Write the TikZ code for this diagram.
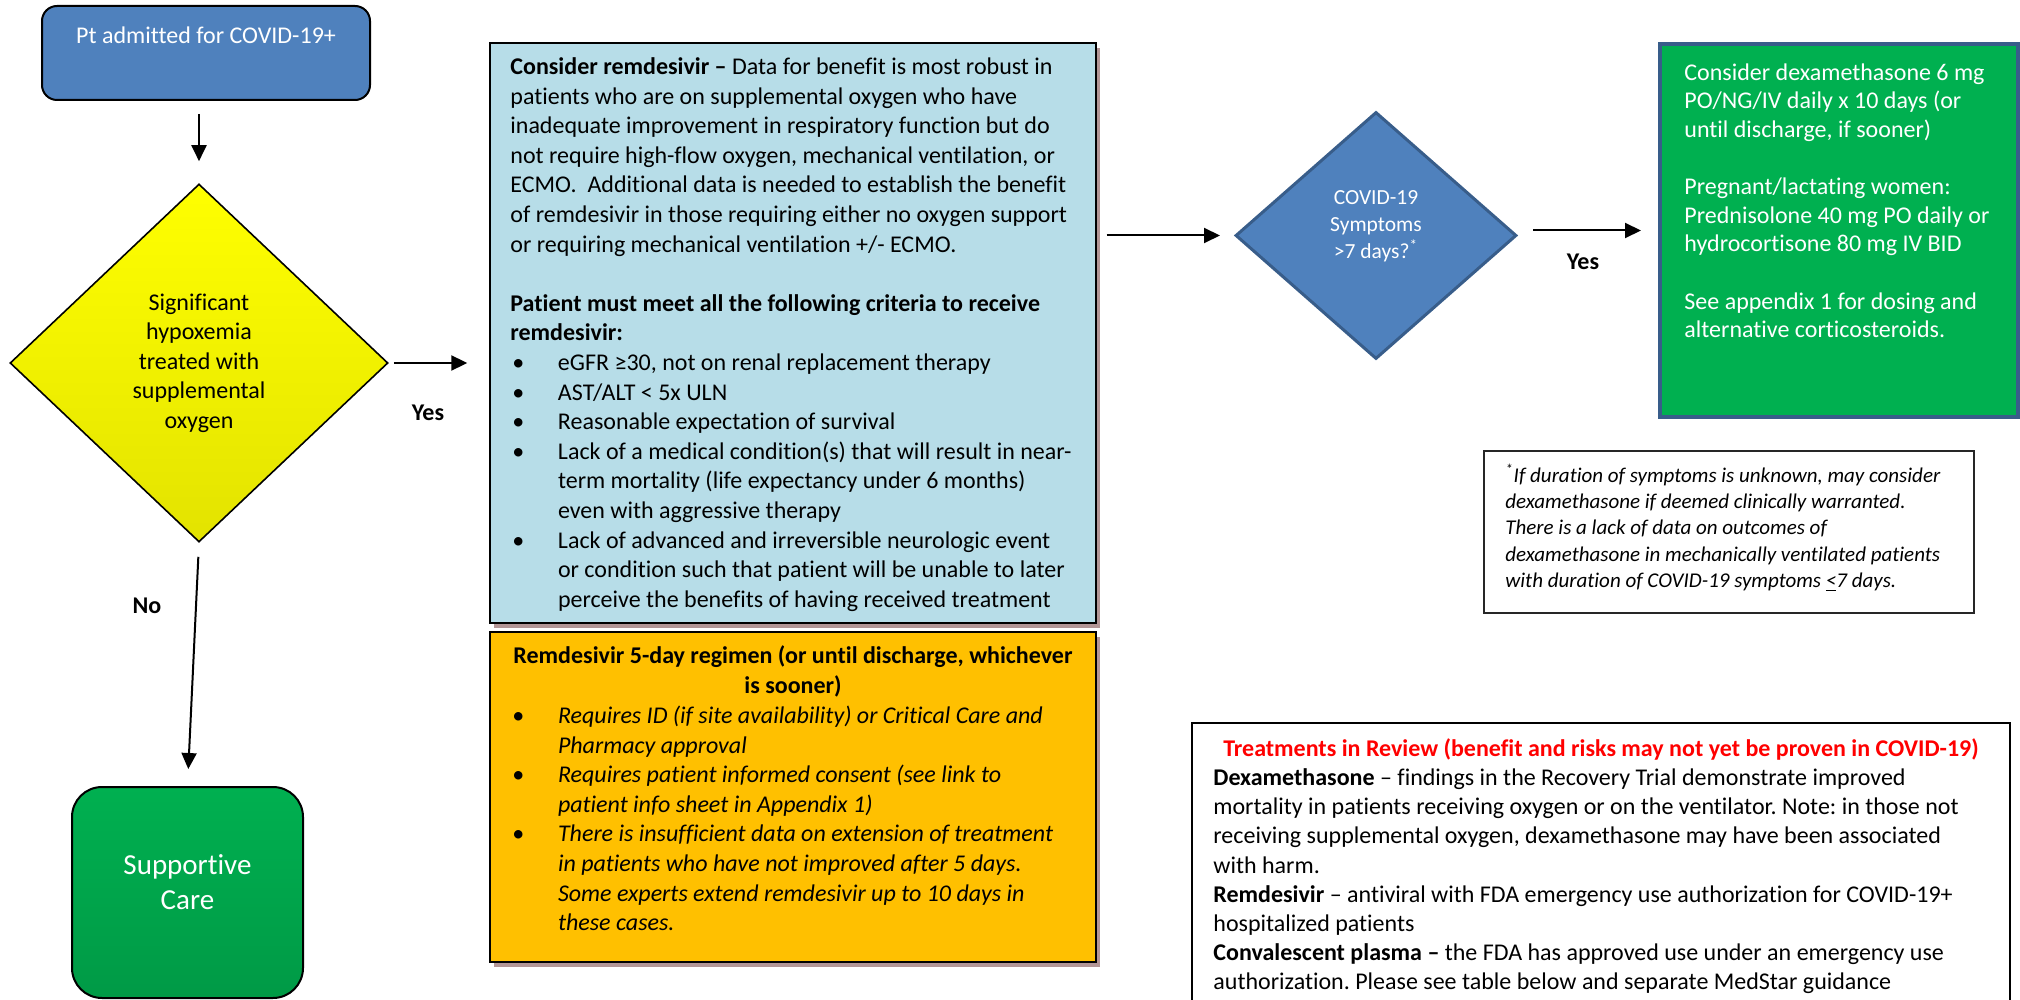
\documentclass[tikz,border=0pt]{standalone}
\usepackage{fontspec}
\setmainfont{Carlito}[Ligatures=NoCommon]
\frenchspacing
\usetikzlibrary{arrows.meta,shapes.geometric}
\definecolor{ptblue}{HTML}{4F81BD}
\definecolor{dkblue}{HTML}{385D8A}
\definecolor{lblue}{HTML}{B7DDE8}
\definecolor{orng}{HTML}{FFC000}
\definecolor{grn}{HTML}{00B050}
\definecolor{grndk}{HTML}{009A46}
\definecolor{ylw}{HTML}{FFFF00}
\definecolor{ylwdk}{HTML}{E3E300}
\definecolor{shd}{HTML}{B39696}
\definecolor{redt}{HTML}{FF0000}
\newcommand\topst{\rule{0pt}{11pt}}
\newcommand\bl{\makebox[23.8pt][l]{\hspace*{1pt}\upshape\textbullet}}
\newcommand\ind{\hspace*{23.8pt}}
\begin{document}
\begin{tikzpicture}[x=0.5pt,y=-0.5pt,
  arr/.style={line width=1pt,-{Triangle[length=8pt,width=7.5pt]}},
  txtbody/.style={inner sep=0pt,font=\fontsize{12}{14.8}\selectfont,align=left},
  shadowbox/.style={rectangle,draw=black,line width=0.7pt,inner sep=0pt,
    preaction={fill=shd,transform canvas={shift={(2pt,-2.5pt)}}}},
  lbl/.style={font=\fontsize{12}{14}\selectfont\bfseries,inner sep=0pt},
]
\useasboundingbox (0,0) rectangle (2020,1000);
\clip (0,0) rectangle (2020,1000);
\fill[white] (0,0) rectangle (2020,1000);

% start box
\node[draw=black,line width=1pt,fill=ptblue,rounded corners=7.5pt,minimum width=164pt,minimum height=47pt,inner sep=0pt] (pt) at (206,53) {};
\node[font=\fontsize{12}{14}\selectfont,text=white,inner sep=0pt,anchor=base] (pttxt) at (206,44) {Pt admitted for COVID-19+};

% yellow decision
\node[diamond,draw=black,line width=0.8pt,top color=ylw,bottom color=ylwdk,minimum width=189pt,minimum height=179pt,inner sep=0pt,align=center,font=\fontsize{12}{14.75}\selectfont] (dec1) at (199,363) {Significant\\hypoxemia\\treated with\\supplemental\\oxygen};

% supportive care
\node[rounded corners=15pt,draw=black,line width=1pt,top color=grn,bottom color=grndk,minimum width=115.5pt,minimum height=105.5pt,inner sep=0pt] (sup) at (187.5,892.5) {};
\node[text=white,font=\fontsize{14.5}{17.5}\selectfont,align=center,inner sep=0pt] (suptxt) at (187.5,882.5) {Supportive\\Care};

% remdesivir box
\node[shadowbox,fill=lblue,minimum width=303pt,minimum height=290pt] (rem) at (793,333) {};
\node[txtbody,anchor=north west] (remtxt) at (510,52) {\topst\textbf{Consider remdesivir –} Data for benefit is most robust in\\
patients who are on supplemental oxygen who have\\
inadequate improvement in respiratory function but do\\
not require high-flow oxygen, mechanical ventilation, or\\
ECMO.\ \ Additional data is needed to establish the benefit\\
of remdesivir in those requiring either no oxygen support\\
or requiring mechanical ventilation +/- ECMO.\\[14.8pt]
\textbf{Patient must meet all the following criteria to receive}\\
\textbf{remdesivir:}\\
\bl eGFR ≥30, not on renal replacement therapy\\
\bl AST/ALT < 5x ULN\\
\bl Reasonable expectation of survival\\
\bl Lack of a medical condition(s) that will result in near-\\
\ind term mortality (life expectancy under 6 months)\\
\ind even with aggressive therapy\\
\bl Lack of advanced and irreversible neurologic event\\
\ind or condition such that patient will be unable to later\\
\ind perceive the benefits of having received treatment};

% regimen box
\node[shadowbox,fill=orng,minimum width=303pt,minimum height=165pt] (reg) at (793,797) {};
\node[inner sep=0pt,anchor=north,align=center,font=\fontsize{12}{14.8}\selectfont\bfseries] (regtitle) at (793,641) {\topst Remdesivir 5-day regimen (or until discharge, whichever\\is sooner)};
\node[txtbody,anchor=north west,font=\fontsize{12}{14.8}\selectfont\itshape] (regtxt) at (510,701) {\topst\bl Requires ID (if site availability) or Critical Care and\\
\ind Pharmacy approval\\
\bl Requires patient informed consent (see link to\\
\ind patient info sheet in Appendix 1)\\
\bl There is insufficient data on extension of treatment\\
\ind in patients who have not improved after 5 days.\\
\ind Some experts extend remdesivir up to 10 days in\\
\ind these cases.};

% blue decision
\node[diamond,draw=dkblue,line width=1.5pt,fill=ptblue,minimum width=140.5pt,minimum height=123.5pt,inner sep=0pt] (dec2) at (1376,235.5) {};
\node[text=white,font=\fontsize{10.75}{13.5}\selectfont,align=center,inner sep=0pt] (dec2txt) at (1376,226) {COVID-19\\Symptoms\\>7 days?\textsuperscript{*}};

% dexamethasone box
\node[draw=dkblue,line width=2pt,fill=grn,minimum width=179pt,minimum height=186.5pt,inner sep=0pt] (dexa) at (1839,230.5) {};
\node[txtbody,text=white,font=\fontsize{12}{14.3}\selectfont,anchor=north west] (dexatxt) at (1684,58) {\topst Consider dexamethasone 6 mg\\
PO/NG/IV daily x 10 days (or\\
until discharge, if sooner)\\[14.3pt]
Pregnant/lactating women:\\
Prednisolone 40 mg PO daily or\\
hydrocortisone 80 mg IV BID\\[14.3pt]
See appendix 1 for dosing and\\
alternative corticosteroids.};

% footnote box
\node[draw=black!85,line width=0.9pt,fill=white,minimum width=245pt,minimum height=81pt,inner sep=0pt] (foot) at (1729,532) {};
\node[inner sep=0pt,align=left,font=\fontsize{10.5}{13.1}\selectfont\itshape,anchor=north west] (foottxt) at (1505,462) {\rule{0pt}{10pt}\textsuperscript{*}If duration of symptoms is unknown, may consider\\
dexamethasone if deemed clinically warranted.\\
There is a lack of data on outcomes of\\
dexamethasone in mechanically ventilated patients\\
with duration of COVID-19 symptoms \underline{<}7 days.};

% treatments in review box
\node[draw=black,line width=1.4pt,minimum width=409pt,minimum height=158.5pt,inner sep=0pt] (rev) at (1601,881.5) {};
\node[inner sep=0pt,font=\fontsize{12}{14.6}\selectfont\bfseries,text=redt,anchor=north] (revtitle) at (1601,734) {\topst Treatments in Review (benefit and risks may not yet be proven in COVID-19)};
\node[txtbody,font=\fontsize{12}{14.6}\selectfont,anchor=north west] (revtxt) at (1213,763) {\topst\textbf{Dexamethasone} – findings in the Recovery Trial demonstrate improved\\
mortality in patients receiving oxygen or on the ventilator. Note: in those not\\
receiving supplemental oxygen, dexamethasone may have been associated\\
with harm.\\
\textbf{Remdesivir} – antiviral with FDA emergency use authorization for COVID-19+\\
hospitalized patients\\
\textbf{Convalescent plasma –} the FDA has approved use under an emergency use\\
authorization. Please see table below and separate MedStar guidance};

% connectors
\draw[arr,shorten <=6.5pt,shorten >=11pt] (pt.south -| dec1.north) -- (dec1.north);
\draw[arr,shorten <=2.5pt,shorten >=11pt] (dec1.east) -- (dec1.east -| rem.west);
\draw[arr,shorten <=7pt,shorten >=8.5pt] (dec1.south) -- (sup.north);
\draw[arr,shorten <=5pt,shorten >=7pt] (dec2.west -| rem.east) -- (dec2.west);
\draw[arr,shorten <=7.5pt,shorten >=8.5pt] (dexa.west -| dec2.east) -- (dexa.west);

% labels
\node[lbl] (yes1) at (428,413) {Yes};
\node[lbl] (no1) at (147,606) {No};
\node[lbl] (yes2) at (1583,262) {Yes};
\end{tikzpicture}
\end{document}
